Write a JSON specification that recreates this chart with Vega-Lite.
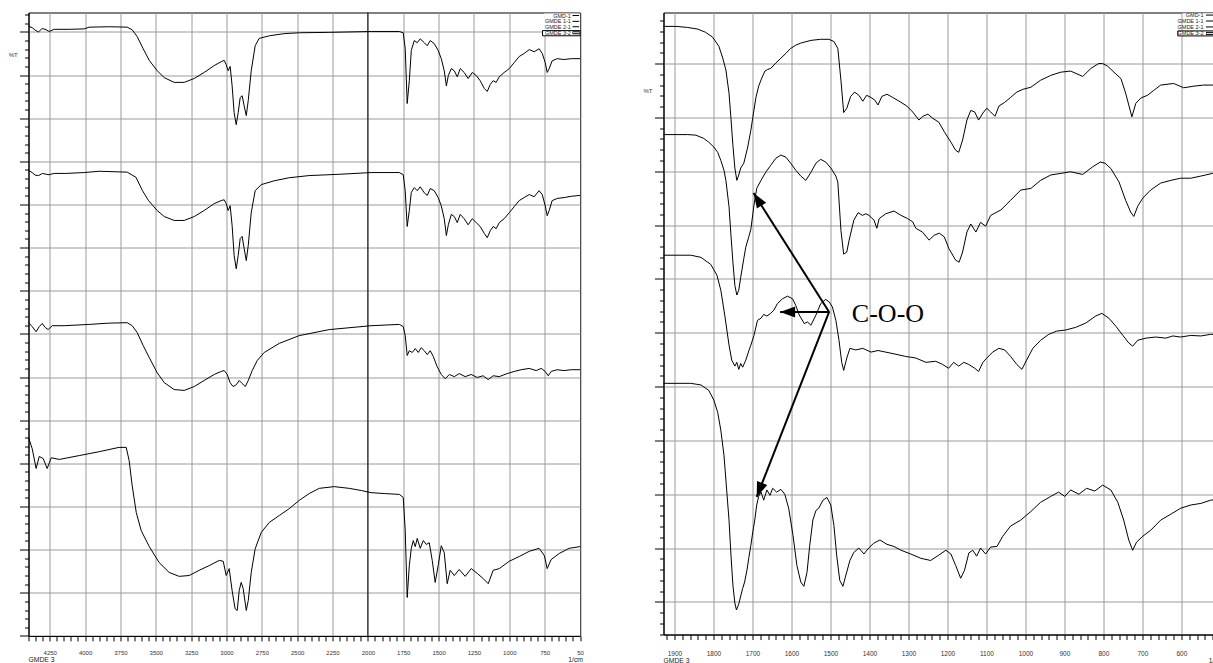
{
"$schema": "https://vega.github.io/schema/vega-lite/v6.json",
"background": "white",
"padding": {"left": 7.5, "top": 11.5, "right": 0, "bottom": 0},
"spacing": 58,
"datasets": {
"left": [
{"series":"GMD-1","wn":4400,"T":141.3},{"series":"GMD-1","wn":4374,"T":141.0},{"series":"GMD-1","wn":4353,"T":140.4},{"series":"GMD-1","wn":4329,"T":140.0},{"series":"GMD-1","wn":4303,"T":140.8},{"series":"GMD-1","wn":4275,"T":140.5},{"series":"GMD-1","wn":4254,"T":140.1},{"series":"GMD-1","wn":4218,"T":140.6},{"series":"GMD-1","wn":4112,"T":140.6},{"series":"GMD-1","wn":4006,"T":140.7},{"series":"GMD-1","wn":3971,"T":141.1},{"series":"GMD-1","wn":3829,"T":141.2},{"series":"GMD-1","wn":3702,"T":141.1},{"series":"GMD-1","wn":3667,"T":140.5},{"series":"GMD-1","wn":3631,"T":138.9},{"series":"GMD-1","wn":3589,"T":136.1},{"series":"GMD-1","wn":3546,"T":133.4},{"series":"GMD-1","wn":3490,"T":131.0},{"series":"GMD-1","wn":3440,"T":129.4},{"series":"GMD-1","wn":3370,"T":128.3},{"series":"GMD-1","wn":3299,"T":128.3},{"series":"GMD-1","wn":3228,"T":129.2},{"series":"GMD-1","wn":3158,"T":130.6},{"series":"GMD-1","wn":3087,"T":132.2},{"series":"GMD-1","wn":3037,"T":133.1},{"series":"GMD-1","wn":3016,"T":133.4},{"series":"GMD-1","wn":3002,"T":132.4},{"series":"GMD-1","wn":2988,"T":131.0},{"series":"GMD-1","wn":2974,"T":132.0},{"series":"GMD-1","wn":2960,"T":127.5},{"series":"GMD-1","wn":2946,"T":121.3},{"series":"GMD-1","wn":2931,"T":118.5},{"series":"GMD-1","wn":2917,"T":121.3},{"series":"GMD-1","wn":2903,"T":124.8},{"series":"GMD-1","wn":2889,"T":125.2},{"series":"GMD-1","wn":2875,"T":122.9},{"series":"GMD-1","wn":2860,"T":120.6},{"series":"GMD-1","wn":2846,"T":124.1},{"series":"GMD-1","wn":2825,"T":131.0},{"series":"GMD-1","wn":2797,"T":136.8},{"series":"GMD-1","wn":2769,"T":138.5},{"series":"GMD-1","wn":2697,"T":139.1},{"series":"GMD-1","wn":2591,"T":139.6},{"series":"GMD-1","wn":2485,"T":139.8},{"series":"GMD-1","wn":2273,"T":139.9},{"series":"GMD-1","wn":1977,"T":140.1},{"series":"GMD-1","wn":1778,"T":140.1},{"series":"GMD-1","wn":1750,"T":139.8},{"series":"GMD-1","wn":1736,"T":136.1},{"series":"GMD-1","wn":1722,"T":123.4},{"series":"GMD-1","wn":1707,"T":128.7},{"series":"GMD-1","wn":1693,"T":135.7},{"series":"GMD-1","wn":1672,"T":138.0},{"series":"GMD-1","wn":1651,"T":137.5},{"series":"GMD-1","wn":1630,"T":138.4},{"series":"GMD-1","wn":1601,"T":137.5},{"series":"GMD-1","wn":1580,"T":136.8},{"series":"GMD-1","wn":1559,"T":138.0},{"series":"GMD-1","wn":1531,"T":137.3},{"series":"GMD-1","wn":1503,"T":135.7},{"series":"GMD-1","wn":1481,"T":133.8},{"series":"GMD-1","wn":1460,"T":131.0},{"series":"GMD-1","wn":1445,"T":127.5},{"series":"GMD-1","wn":1431,"T":129.9},{"series":"GMD-1","wn":1410,"T":131.5},{"series":"GMD-1","wn":1389,"T":131.0},{"series":"GMD-1","wn":1368,"T":129.6},{"series":"GMD-1","wn":1347,"T":131.5},{"series":"GMD-1","wn":1319,"T":130.6},{"series":"GMD-1","wn":1291,"T":129.2},{"series":"GMD-1","wn":1262,"T":130.6},{"series":"GMD-1","wn":1234,"T":129.9},{"series":"GMD-1","wn":1206,"T":128.7},{"series":"GMD-1","wn":1177,"T":126.9},{"series":"GMD-1","wn":1156,"T":126.2},{"series":"GMD-1","wn":1135,"T":127.8},{"series":"GMD-1","wn":1114,"T":128.7},{"series":"GMD-1","wn":1093,"T":128.3},{"series":"GMD-1","wn":1071,"T":129.6},{"series":"GMD-1","wn":1036,"T":130.6},{"series":"GMD-1","wn":1000,"T":131.5},{"series":"GMD-1","wn":965,"T":132.9},{"series":"GMD-1","wn":930,"T":134.3},{"series":"GMD-1","wn":895,"T":135.0},{"series":"GMD-1","wn":859,"T":135.9},{"series":"GMD-1","wn":824,"T":135.4},{"series":"GMD-1","wn":789,"T":136.1},{"series":"GMD-1","wn":767,"T":135.0},{"series":"GMD-1","wn":746,"T":132.9},{"series":"GMD-1","wn":732,"T":130.6},{"series":"GMD-1","wn":718,"T":131.5},{"series":"GMD-1","wn":697,"T":133.3},{"series":"GMD-1","wn":661,"T":133.8},{"series":"GMD-1","wn":612,"T":133.6},{"series":"GMD-1","wn":562,"T":133.8},{"series":"GMD-1","wn":500,"T":133.8},
{"series":"GMDE 1-1","wn":4400,"T":107.9},{"series":"GMDE 1-1","wn":4374,"T":107.4},{"series":"GMDE 1-1","wn":4353,"T":106.8},{"series":"GMDE 1-1","wn":4329,"T":106.7},{"series":"GMDE 1-1","wn":4301,"T":107.2},{"series":"GMDE 1-1","wn":4275,"T":107.0},{"series":"GMDE 1-1","wn":4254,"T":106.9},{"series":"GMDE 1-1","wn":4218,"T":107.2},{"series":"GMDE 1-1","wn":4136,"T":107.2},{"series":"GMDE 1-1","wn":4006,"T":107.4},{"series":"GMDE 1-1","wn":3900,"T":107.7},{"series":"GMDE 1-1","wn":3702,"T":107.5},{"series":"GMDE 1-1","wn":3640,"T":106.3},{"series":"GMDE 1-1","wn":3594,"T":103.2},{"series":"GMDE 1-1","wn":3551,"T":100.9},{"series":"GMDE 1-1","wn":3490,"T":98.6},{"series":"GMDE 1-1","wn":3440,"T":97.2},{"series":"GMDE 1-1","wn":3370,"T":96.3},{"series":"GMDE 1-1","wn":3299,"T":96.3},{"series":"GMDE 1-1","wn":3228,"T":97.2},{"series":"GMDE 1-1","wn":3158,"T":98.6},{"series":"GMDE 1-1","wn":3087,"T":100.2},{"series":"GMDE 1-1","wn":3037,"T":100.9},{"series":"GMDE 1-1","wn":3016,"T":101.1},{"series":"GMDE 1-1","wn":3002,"T":100.2},{"series":"GMDE 1-1","wn":2988,"T":98.6},{"series":"GMDE 1-1","wn":2974,"T":99.7},{"series":"GMDE 1-1","wn":2960,"T":95.1},{"series":"GMDE 1-1","wn":2946,"T":88.2},{"series":"GMDE 1-1","wn":2931,"T":85.1},{"series":"GMDE 1-1","wn":2917,"T":88.2},{"series":"GMDE 1-1","wn":2903,"T":92.1},{"series":"GMDE 1-1","wn":2889,"T":92.6},{"series":"GMDE 1-1","wn":2875,"T":89.8},{"series":"GMDE 1-1","wn":2860,"T":87.0},{"series":"GMDE 1-1","wn":2846,"T":90.5},{"series":"GMDE 1-1","wn":2825,"T":98.1},{"series":"GMDE 1-1","wn":2797,"T":103.2},{"series":"GMDE 1-1","wn":2754,"T":104.6},{"series":"GMDE 1-1","wn":2662,"T":105.5},{"series":"GMDE 1-1","wn":2556,"T":106.2},{"series":"GMDE 1-1","wn":2415,"T":106.7},{"series":"GMDE 1-1","wn":2203,"T":107.0},{"series":"GMDE 1-1","wn":1977,"T":107.4},{"series":"GMDE 1-1","wn":1778,"T":107.4},{"series":"GMDE 1-1","wn":1750,"T":106.9},{"series":"GMDE 1-1","wn":1736,"T":103.2},{"series":"GMDE 1-1","wn":1722,"T":94.9},{"series":"GMDE 1-1","wn":1707,"T":98.6},{"series":"GMDE 1-1","wn":1693,"T":102.8},{"series":"GMDE 1-1","wn":1672,"T":103.9},{"series":"GMDE 1-1","wn":1651,"T":103.2},{"series":"GMDE 1-1","wn":1630,"T":104.1},{"series":"GMDE 1-1","wn":1601,"T":102.7},{"series":"GMDE 1-1","wn":1580,"T":102.1},{"series":"GMDE 1-1","wn":1559,"T":103.7},{"series":"GMDE 1-1","wn":1531,"T":103.2},{"series":"GMDE 1-1","wn":1503,"T":101.6},{"series":"GMDE 1-1","wn":1481,"T":99.7},{"series":"GMDE 1-1","wn":1460,"T":96.7},{"series":"GMDE 1-1","wn":1445,"T":92.8},{"series":"GMDE 1-1","wn":1431,"T":95.3},{"series":"GMDE 1-1","wn":1410,"T":97.7},{"series":"GMDE 1-1","wn":1389,"T":97.2},{"series":"GMDE 1-1","wn":1368,"T":95.8},{"series":"GMDE 1-1","wn":1347,"T":97.7},{"series":"GMDE 1-1","wn":1319,"T":96.7},{"series":"GMDE 1-1","wn":1291,"T":95.3},{"series":"GMDE 1-1","wn":1262,"T":96.7},{"series":"GMDE 1-1","wn":1234,"T":95.8},{"series":"GMDE 1-1","wn":1206,"T":94.9},{"series":"GMDE 1-1","wn":1177,"T":93.3},{"series":"GMDE 1-1","wn":1156,"T":92.3},{"series":"GMDE 1-1","wn":1135,"T":93.9},{"series":"GMDE 1-1","wn":1114,"T":94.9},{"series":"GMDE 1-1","wn":1093,"T":94.4},{"series":"GMDE 1-1","wn":1071,"T":95.8},{"series":"GMDE 1-1","wn":1036,"T":96.7},{"series":"GMDE 1-1","wn":1000,"T":98.1},{"series":"GMDE 1-1","wn":965,"T":99.5},{"series":"GMDE 1-1","wn":930,"T":100.9},{"series":"GMDE 1-1","wn":895,"T":101.6},{"series":"GMDE 1-1","wn":859,"T":102.3},{"series":"GMDE 1-1","wn":824,"T":101.8},{"series":"GMDE 1-1","wn":789,"T":103.2},{"series":"GMDE 1-1","wn":767,"T":102.3},{"series":"GMDE 1-1","wn":746,"T":99.7},{"series":"GMDE 1-1","wn":732,"T":97.4},{"series":"GMDE 1-1","wn":718,"T":98.6},{"series":"GMDE 1-1","wn":697,"T":100.9},{"series":"GMDE 1-1","wn":661,"T":101.4},{"series":"GMDE 1-1","wn":612,"T":101.6},{"series":"GMDE 1-1","wn":562,"T":101.9},{"series":"GMDE 1-1","wn":500,"T":102.1},
{"series":"GMDE 2-1","wn":4400,"T":72.6},{"series":"GMDE 2-1","wn":4374,"T":71.7},{"series":"GMDE 2-1","wn":4346,"T":70.5},{"series":"GMDE 2-1","wn":4324,"T":71.7},{"series":"GMDE 2-1","wn":4303,"T":72.4},{"series":"GMDE 2-1","wn":4282,"T":71.5},{"series":"GMDE 2-1","wn":4261,"T":71.0},{"series":"GMDE 2-1","wn":4232,"T":71.9},{"series":"GMDE 2-1","wn":4148,"T":71.9},{"series":"GMDE 2-1","wn":3971,"T":72.2},{"series":"GMDE 2-1","wn":3829,"T":72.5},{"series":"GMDE 2-1","wn":3702,"T":72.6},{"series":"GMDE 2-1","wn":3667,"T":71.9},{"series":"GMDE 2-1","wn":3631,"T":70.3},{"series":"GMDE 2-1","wn":3589,"T":67.3},{"series":"GMDE 2-1","wn":3546,"T":64.5},{"series":"GMDE 2-1","wn":3490,"T":61.0},{"series":"GMDE 2-1","wn":3440,"T":58.7},{"series":"GMDE 2-1","wn":3370,"T":57.1},{"series":"GMDE 2-1","wn":3299,"T":56.9},{"series":"GMDE 2-1","wn":3228,"T":57.8},{"series":"GMDE 2-1","wn":3158,"T":59.2},{"series":"GMDE 2-1","wn":3087,"T":60.6},{"series":"GMDE 2-1","wn":3037,"T":61.3},{"series":"GMDE 2-1","wn":3016,"T":61.5},{"series":"GMDE 2-1","wn":2995,"T":60.6},{"series":"GMDE 2-1","wn":2974,"T":58.7},{"series":"GMDE 2-1","wn":2953,"T":57.8},{"series":"GMDE 2-1","wn":2931,"T":58.2},{"series":"GMDE 2-1","wn":2910,"T":59.2},{"series":"GMDE 2-1","wn":2889,"T":58.5},{"series":"GMDE 2-1","wn":2867,"T":57.8},{"series":"GMDE 2-1","wn":2846,"T":59.2},{"series":"GMDE 2-1","wn":2818,"T":61.5},{"series":"GMDE 2-1","wn":2783,"T":63.8},{"series":"GMDE 2-1","wn":2733,"T":65.7},{"series":"GMDE 2-1","wn":2627,"T":67.8},{"series":"GMDE 2-1","wn":2486,"T":69.6},{"series":"GMDE 2-1","wn":2273,"T":71.0},{"series":"GMDE 2-1","wn":1977,"T":71.9},{"series":"GMDE 2-1","wn":1778,"T":72.2},{"series":"GMDE 2-1","wn":1750,"T":71.7},{"series":"GMDE 2-1","wn":1736,"T":69.6},{"series":"GMDE 2-1","wn":1722,"T":65.0},{"series":"GMDE 2-1","wn":1707,"T":66.1},{"series":"GMDE 2-1","wn":1686,"T":65.7},{"series":"GMDE 2-1","wn":1665,"T":66.6},{"series":"GMDE 2-1","wn":1644,"T":65.7},{"series":"GMDE 2-1","wn":1623,"T":66.8},{"series":"GMDE 2-1","wn":1601,"T":66.1},{"series":"GMDE 2-1","wn":1580,"T":65.2},{"series":"GMDE 2-1","wn":1559,"T":66.1},{"series":"GMDE 2-1","wn":1538,"T":64.8},{"series":"GMDE 2-1","wn":1510,"T":62.4},{"series":"GMDE 2-1","wn":1481,"T":60.6},{"series":"GMDE 2-1","wn":1453,"T":59.6},{"series":"GMDE 2-1","wn":1424,"T":60.6},{"series":"GMDE 2-1","wn":1389,"T":60.1},{"series":"GMDE 2-1","wn":1354,"T":60.8},{"series":"GMDE 2-1","wn":1312,"T":60.1},{"series":"GMDE 2-1","wn":1269,"T":60.6},{"series":"GMDE 2-1","wn":1227,"T":59.9},{"series":"GMDE 2-1","wn":1185,"T":60.3},{"series":"GMDE 2-1","wn":1149,"T":59.4},{"series":"GMDE 2-1","wn":1114,"T":60.3},{"series":"GMDE 2-1","wn":1071,"T":60.1},{"series":"GMDE 2-1","wn":1015,"T":60.8},{"series":"GMDE 2-1","wn":965,"T":61.3},{"series":"GMDE 2-1","wn":916,"T":61.7},{"series":"GMDE 2-1","wn":859,"T":62.0},{"series":"GMDE 2-1","wn":810,"T":61.5},{"series":"GMDE 2-1","wn":774,"T":62.0},{"series":"GMDE 2-1","wn":746,"T":61.3},{"series":"GMDE 2-1","wn":725,"T":60.3},{"series":"GMDE 2-1","wn":704,"T":61.3},{"series":"GMDE 2-1","wn":661,"T":61.7},{"series":"GMDE 2-1","wn":612,"T":61.5},{"series":"GMDE 2-1","wn":562,"T":61.7},{"series":"GMDE 2-1","wn":500,"T":61.7},
{"series":"GMDE 3-2","wn":4400,"T":46.0},{"series":"GMDE 3-2","wn":4374,"T":43.4},{"series":"GMDE 3-2","wn":4346,"T":38.8},{"series":"GMDE 3-2","wn":4324,"T":41.6},{"series":"GMDE 3-2","wn":4296,"T":41.1},{"series":"GMDE 3-2","wn":4268,"T":38.8},{"series":"GMDE 3-2","wn":4239,"T":41.3},{"series":"GMDE 3-2","wn":4183,"T":40.9},{"series":"GMDE 3-2","wn":4041,"T":41.8},{"series":"GMDE 3-2","wn":3900,"T":42.7},{"series":"GMDE 3-2","wn":3759,"T":43.7},{"series":"GMDE 3-2","wn":3709,"T":43.7},{"series":"GMDE 3-2","wn":3688,"T":40.6},{"series":"GMDE 3-2","wn":3667,"T":34.9},{"series":"GMDE 3-2","wn":3638,"T":28.6},{"series":"GMDE 3-2","wn":3603,"T":24.4},{"series":"GMDE 3-2","wn":3546,"T":20.7},{"series":"GMDE 3-2","wn":3476,"T":17.0},{"series":"GMDE 3-2","wn":3405,"T":14.7},{"series":"GMDE 3-2","wn":3334,"T":13.8},{"series":"GMDE 3-2","wn":3264,"T":14.0},{"series":"GMDE 3-2","wn":3193,"T":15.2},{"series":"GMDE 3-2","wn":3122,"T":16.3},{"series":"GMDE 3-2","wn":3051,"T":17.5},{"series":"GMDE 3-2","wn":3023,"T":17.3},{"series":"GMDE 3-2","wn":3002,"T":14.0},{"series":"GMDE 3-2","wn":2981,"T":15.6},{"series":"GMDE 3-2","wn":2960,"T":10.5},{"series":"GMDE 3-2","wn":2939,"T":6.3},{"series":"GMDE 3-2","wn":2924,"T":5.9},{"series":"GMDE 3-2","wn":2910,"T":10.5},{"series":"GMDE 3-2","wn":2896,"T":12.4},{"series":"GMDE 3-2","wn":2882,"T":11.0},{"series":"GMDE 3-2","wn":2860,"T":5.9},{"series":"GMDE 3-2","wn":2846,"T":8.2},{"series":"GMDE 3-2","wn":2825,"T":14.7},{"series":"GMDE 3-2","wn":2797,"T":20.2},{"series":"GMDE 3-2","wn":2754,"T":24.0},{"series":"GMDE 3-2","wn":2697,"T":26.3},{"series":"GMDE 3-2","wn":2627,"T":27.9},{"series":"GMDE 3-2","wn":2556,"T":29.5},{"series":"GMDE 3-2","wn":2486,"T":31.4},{"series":"GMDE 3-2","wn":2415,"T":33.0},{"series":"GMDE 3-2","wn":2344,"T":34.2},{"series":"GMDE 3-2","wn":2238,"T":34.6},{"series":"GMDE 3-2","wn":2132,"T":34.2},{"series":"GMDE 3-2","wn":2047,"T":33.7},{"series":"GMDE 3-2","wn":1977,"T":33.2},{"series":"GMDE 3-2","wn":1885,"T":33.0},{"series":"GMDE 3-2","wn":1778,"T":32.8},{"series":"GMDE 3-2","wn":1750,"T":32.1},{"series":"GMDE 3-2","wn":1736,"T":24.5},{"series":"GMDE 3-2","wn":1722,"T":8.9},{"series":"GMDE 3-2","wn":1707,"T":16.3},{"series":"GMDE 3-2","wn":1693,"T":20.3},{"series":"GMDE 3-2","wn":1679,"T":22.1},{"series":"GMDE 3-2","wn":1665,"T":20.7},{"series":"GMDE 3-2","wn":1651,"T":22.6},{"series":"GMDE 3-2","wn":1630,"T":20.3},{"series":"GMDE 3-2","wn":1608,"T":22.1},{"series":"GMDE 3-2","wn":1587,"T":21.2},{"series":"GMDE 3-2","wn":1566,"T":21.6},{"series":"GMDE 3-2","wn":1545,"T":17.5},{"series":"GMDE 3-2","wn":1524,"T":12.4},{"series":"GMDE 3-2","wn":1503,"T":16.3},{"series":"GMDE 3-2","wn":1481,"T":20.9},{"series":"GMDE 3-2","wn":1460,"T":19.3},{"series":"GMDE 3-2","wn":1439,"T":12.1},{"series":"GMDE 3-2","wn":1418,"T":15.2},{"series":"GMDE 3-2","wn":1389,"T":14.0},{"series":"GMDE 3-2","wn":1354,"T":15.4},{"series":"GMDE 3-2","wn":1312,"T":13.8},{"series":"GMDE 3-2","wn":1269,"T":15.6},{"series":"GMDE 3-2","wn":1227,"T":14.5},{"series":"GMDE 3-2","wn":1185,"T":13.3},{"series":"GMDE 3-2","wn":1149,"T":12.1},{"series":"GMDE 3-2","wn":1114,"T":15.2},{"series":"GMDE 3-2","wn":1071,"T":15.6},{"series":"GMDE 3-2","wn":1000,"T":17.3},{"series":"GMDE 3-2","wn":930,"T":18.4},{"series":"GMDE 3-2","wn":859,"T":19.6},{"series":"GMDE 3-2","wn":789,"T":20.3},{"series":"GMDE 3-2","wn":752,"T":18.6},{"series":"GMDE 3-2","wn":732,"T":15.6},{"series":"GMDE 3-2","wn":704,"T":17.7},{"series":"GMDE 3-2","wn":647,"T":19.1},{"series":"GMDE 3-2","wn":577,"T":20.3},{"series":"GMDE 3-2","wn":500,"T":20.7}
],
"right": [
{"series":"GMD-1","wn":1928,"T":106.9},{"series":"GMD-1","wn":1896,"T":106.9},{"series":"GMD-1","wn":1866,"T":106.7},{"series":"GMD-1","wn":1840,"T":106.4},{"series":"GMD-1","wn":1820,"T":105.8},{"series":"GMD-1","wn":1802,"T":104.9},{"series":"GMD-1","wn":1786,"T":103.2},{"series":"GMD-1","wn":1776,"T":101.0},{"series":"GMD-1","wn":1768,"T":98.8},{"series":"GMD-1","wn":1760,"T":94.5},{"series":"GMD-1","wn":1755,"T":89.8},{"series":"GMD-1","wn":1750,"T":84.8},{"series":"GMD-1","wn":1745,"T":80.6},{"series":"GMD-1","wn":1740,"T":78.3},{"series":"GMD-1","wn":1735,"T":79.3},{"series":"GMD-1","wn":1730,"T":80.6},{"series":"GMD-1","wn":1722,"T":81.5},{"series":"GMD-1","wn":1712,"T":84.5},{"series":"GMD-1","wn":1704,"T":87.6},{"series":"GMD-1","wn":1699,"T":90.0},{"series":"GMD-1","wn":1691,"T":93.7},{"series":"GMD-1","wn":1684,"T":95.8},{"series":"GMD-1","wn":1676,"T":97.3},{"series":"GMD-1","wn":1668,"T":98.6},{"series":"GMD-1","wn":1661,"T":98.9},{"series":"GMD-1","wn":1653,"T":99.1},{"series":"GMD-1","wn":1640,"T":100.1},{"series":"GMD-1","wn":1627,"T":101.0},{"series":"GMD-1","wn":1614,"T":101.9},{"series":"GMD-1","wn":1602,"T":102.8},{"series":"GMD-1","wn":1589,"T":103.4},{"series":"GMD-1","wn":1576,"T":103.8},{"series":"GMD-1","wn":1550,"T":104.3},{"series":"GMD-1","wn":1525,"T":104.5},{"series":"GMD-1","wn":1504,"T":104.5},{"series":"GMD-1","wn":1491,"T":104.1},{"series":"GMD-1","wn":1481,"T":102.8},{"series":"GMD-1","wn":1473,"T":96.9},{"series":"GMD-1","wn":1466,"T":90.9},{"series":"GMD-1","wn":1458,"T":91.7},{"series":"GMD-1","wn":1448,"T":93.9},{"series":"GMD-1","wn":1438,"T":94.7},{"series":"GMD-1","wn":1427,"T":94.1},{"series":"GMD-1","wn":1417,"T":93.0},{"series":"GMD-1","wn":1407,"T":94.1},{"series":"GMD-1","wn":1396,"T":93.7},{"series":"GMD-1","wn":1386,"T":93.2},{"series":"GMD-1","wn":1378,"T":92.3},{"series":"GMD-1","wn":1368,"T":93.9},{"series":"GMD-1","wn":1355,"T":94.3},{"series":"GMD-1","wn":1340,"T":93.7},{"series":"GMD-1","wn":1319,"T":92.8},{"series":"GMD-1","wn":1304,"T":92.1},{"series":"GMD-1","wn":1289,"T":91.0},{"series":"GMD-1","wn":1273,"T":89.5},{"series":"GMD-1","wn":1263,"T":90.2},{"series":"GMD-1","wn":1250,"T":90.6},{"series":"GMD-1","wn":1237,"T":89.8},{"series":"GMD-1","wn":1222,"T":89.1},{"series":"GMD-1","wn":1207,"T":87.2},{"series":"GMD-1","wn":1191,"T":85.4},{"series":"GMD-1","wn":1179,"T":83.9},{"series":"GMD-1","wn":1171,"T":83.5},{"series":"GMD-1","wn":1161,"T":85.8},{"series":"GMD-1","wn":1150,"T":89.5},{"series":"GMD-1","wn":1140,"T":91.3},{"series":"GMD-1","wn":1130,"T":91.0},{"series":"GMD-1","wn":1120,"T":89.5},{"series":"GMD-1","wn":1109,"T":90.8},{"series":"GMD-1","wn":1099,"T":91.7},{"series":"GMD-1","wn":1089,"T":91.0},{"series":"GMD-1","wn":1078,"T":90.2},{"series":"GMD-1","wn":1068,"T":92.1},{"series":"GMD-1","wn":1053,"T":92.8},{"series":"GMD-1","wn":1038,"T":93.7},{"series":"GMD-1","wn":1022,"T":94.7},{"series":"GMD-1","wn":1007,"T":95.2},{"series":"GMD-1","wn":986,"T":95.6},{"series":"GMD-1","wn":961,"T":96.9},{"series":"GMD-1","wn":935,"T":97.8},{"series":"GMD-1","wn":909,"T":98.4},{"series":"GMD-1","wn":884,"T":98.6},{"series":"GMD-1","wn":853,"T":97.6},{"series":"GMD-1","wn":832,"T":99.1},{"series":"GMD-1","wn":812,"T":100.0},{"series":"GMD-1","wn":802,"T":100.0},{"series":"GMD-1","wn":789,"T":99.5},{"series":"GMD-1","wn":773,"T":98.4},{"series":"GMD-1","wn":755,"T":97.2},{"series":"GMD-1","wn":743,"T":94.5},{"series":"GMD-1","wn":735,"T":92.3},{"series":"GMD-1","wn":727,"T":90.1},{"series":"GMD-1","wn":717,"T":92.6},{"series":"GMD-1","wn":704,"T":93.6},{"series":"GMD-1","wn":687,"T":94.1},{"series":"GMD-1","wn":671,"T":95.0},{"series":"GMD-1","wn":653,"T":96.0},{"series":"GMD-1","wn":620,"T":96.3},{"series":"GMD-1","wn":594,"T":95.5},{"series":"GMD-1","wn":568,"T":95.8},{"series":"GMD-1","wn":543,"T":96.0},{"series":"GMD-1","wn":519,"T":96.0},{"series":"GMD-1","wn":500,"T":96.2},
{"series":"GMDE 1-1","wn":1928,"T":86.8},{"series":"GMDE 1-1","wn":1866,"T":86.8},{"series":"GMDE 1-1","wn":1845,"T":86.7},{"series":"GMDE 1-1","wn":1825,"T":86.1},{"series":"GMDE 1-1","wn":1812,"T":85.4},{"series":"GMDE 1-1","wn":1799,"T":84.5},{"series":"GMDE 1-1","wn":1789,"T":83.5},{"series":"GMDE 1-1","wn":1781,"T":82.0},{"series":"GMDE 1-1","wn":1773,"T":80.2},{"series":"GMDE 1-1","wn":1768,"T":78.3},{"series":"GMDE 1-1","wn":1760,"T":73.4},{"series":"GMDE 1-1","wn":1755,"T":68.1},{"series":"GMDE 1-1","wn":1750,"T":63.1},{"series":"GMDE 1-1","wn":1745,"T":58.8},{"series":"GMDE 1-1","wn":1740,"T":57.0},{"series":"GMDE 1-1","wn":1735,"T":57.9},{"series":"GMDE 1-1","wn":1730,"T":60.3},{"series":"GMDE 1-1","wn":1722,"T":63.8},{"series":"GMDE 1-1","wn":1717,"T":65.9},{"series":"GMDE 1-1","wn":1709,"T":67.9},{"series":"GMDE 1-1","wn":1704,"T":69.2},{"series":"GMDE 1-1","wn":1696,"T":73.7},{"series":"GMDE 1-1","wn":1689,"T":76.8},{"series":"GMDE 1-1","wn":1678,"T":78.3},{"series":"GMDE 1-1","wn":1666,"T":79.8},{"series":"GMDE 1-1","wn":1653,"T":81.1},{"series":"GMDE 1-1","wn":1640,"T":82.4},{"series":"GMDE 1-1","wn":1627,"T":83.0},{"series":"GMDE 1-1","wn":1614,"T":82.6},{"series":"GMDE 1-1","wn":1602,"T":81.5},{"series":"GMDE 1-1","wn":1589,"T":80.2},{"series":"GMDE 1-1","wn":1576,"T":79.1},{"series":"GMDE 1-1","wn":1563,"T":78.3},{"series":"GMDE 1-1","wn":1550,"T":79.8},{"series":"GMDE 1-1","wn":1537,"T":81.5},{"series":"GMDE 1-1","wn":1525,"T":82.2},{"series":"GMDE 1-1","wn":1512,"T":81.7},{"series":"GMDE 1-1","wn":1499,"T":80.6},{"series":"GMDE 1-1","wn":1486,"T":79.1},{"series":"GMDE 1-1","wn":1481,"T":78.0},{"series":"GMDE 1-1","wn":1473,"T":69.0},{"series":"GMDE 1-1","wn":1466,"T":64.6},{"series":"GMDE 1-1","wn":1458,"T":65.0},{"series":"GMDE 1-1","wn":1452,"T":67.2},{"series":"GMDE 1-1","wn":1440,"T":70.9},{"series":"GMDE 1-1","wn":1429,"T":72.3},{"series":"GMDE 1-1","wn":1418,"T":71.8},{"series":"GMDE 1-1","wn":1409,"T":72.1},{"series":"GMDE 1-1","wn":1401,"T":71.8},{"series":"GMDE 1-1","wn":1388,"T":70.9},{"series":"GMDE 1-1","wn":1381,"T":69.4},{"series":"GMDE 1-1","wn":1375,"T":71.2},{"series":"GMDE 1-1","wn":1358,"T":72.1},{"series":"GMDE 1-1","wn":1337,"T":72.6},{"series":"GMDE 1-1","wn":1319,"T":71.8},{"series":"GMDE 1-1","wn":1302,"T":71.2},{"series":"GMDE 1-1","wn":1289,"T":70.6},{"series":"GMDE 1-1","wn":1281,"T":69.4},{"series":"GMDE 1-1","wn":1264,"T":68.7},{"series":"GMDE 1-1","wn":1247,"T":67.2},{"series":"GMDE 1-1","wn":1234,"T":68.1},{"series":"GMDE 1-1","wn":1221,"T":68.5},{"series":"GMDE 1-1","wn":1208,"T":67.8},{"series":"GMDE 1-1","wn":1196,"T":65.6},{"series":"GMDE 1-1","wn":1179,"T":63.5},{"series":"GMDE 1-1","wn":1170,"T":63.1},{"series":"GMDE 1-1","wn":1161,"T":65.0},{"series":"GMDE 1-1","wn":1150,"T":68.7},{"series":"GMDE 1-1","wn":1140,"T":70.2},{"series":"GMDE 1-1","wn":1127,"T":68.7},{"series":"GMDE 1-1","wn":1115,"T":70.5},{"series":"GMDE 1-1","wn":1102,"T":69.8},{"series":"GMDE 1-1","wn":1089,"T":71.8},{"series":"GMDE 1-1","wn":1063,"T":72.8},{"series":"GMDE 1-1","wn":1038,"T":74.6},{"series":"GMDE 1-1","wn":1012,"T":76.5},{"series":"GMDE 1-1","wn":986,"T":76.8},{"series":"GMDE 1-1","wn":961,"T":78.3},{"series":"GMDE 1-1","wn":935,"T":79.3},{"series":"GMDE 1-1","wn":909,"T":79.6},{"series":"GMDE 1-1","wn":884,"T":79.9},{"series":"GMDE 1-1","wn":853,"T":79.4},{"series":"GMDE 1-1","wn":828,"T":80.8},{"series":"GMDE 1-1","wn":808,"T":81.7},{"series":"GMDE 1-1","wn":796,"T":81.5},{"series":"GMDE 1-1","wn":781,"T":80.5},{"series":"GMDE 1-1","wn":760,"T":78.0},{"series":"GMDE 1-1","wn":743,"T":74.6},{"series":"GMDE 1-1","wn":730,"T":72.4},{"series":"GMDE 1-1","wn":722,"T":71.6},{"series":"GMDE 1-1","wn":712,"T":73.5},{"series":"GMDE 1-1","wn":699,"T":75.0},{"series":"GMDE 1-1","wn":679,"T":76.5},{"series":"GMDE 1-1","wn":653,"T":77.8},{"series":"GMDE 1-1","wn":627,"T":78.3},{"series":"GMDE 1-1","wn":602,"T":78.7},{"series":"GMDE 1-1","wn":576,"T":78.7},{"series":"GMDE 1-1","wn":550,"T":79.1},{"series":"GMDE 1-1","wn":520,"T":79.6},{"series":"GMDE 1-1","wn":500,"T":79.8},
{"series":"GMDE 2-1","wn":1928,"T":64.4},{"series":"GMDE 2-1","wn":1858,"T":64.4},{"series":"GMDE 2-1","wn":1832,"T":64.0},{"series":"GMDE 2-1","wn":1807,"T":62.7},{"series":"GMDE 2-1","wn":1791,"T":60.7},{"series":"GMDE 2-1","wn":1781,"T":57.9},{"series":"GMDE 2-1","wn":1771,"T":53.3},{"series":"GMDE 2-1","wn":1760,"T":47.7},{"series":"GMDE 2-1","wn":1753,"T":44.9},{"series":"GMDE 2-1","wn":1745,"T":43.8},{"series":"GMDE 2-1","wn":1740,"T":44.5},{"series":"GMDE 2-1","wn":1735,"T":43.2},{"series":"GMDE 2-1","wn":1730,"T":44.3},{"series":"GMDE 2-1","wn":1725,"T":43.6},{"series":"GMDE 2-1","wn":1717,"T":44.9},{"series":"GMDE 2-1","wn":1709,"T":46.7},{"series":"GMDE 2-1","wn":1704,"T":47.7},{"series":"GMDE 2-1","wn":1696,"T":49.5},{"series":"GMDE 2-1","wn":1687,"T":52.3},{"series":"GMDE 2-1","wn":1678,"T":52.7},{"series":"GMDE 2-1","wn":1671,"T":53.4},{"series":"GMDE 2-1","wn":1663,"T":53.1},{"series":"GMDE 2-1","wn":1653,"T":53.6},{"series":"GMDE 2-1","wn":1645,"T":54.2},{"series":"GMDE 2-1","wn":1636,"T":55.4},{"series":"GMDE 2-1","wn":1623,"T":56.3},{"series":"GMDE 2-1","wn":1610,"T":56.8},{"series":"GMDE 2-1","wn":1597,"T":56.3},{"series":"GMDE 2-1","wn":1589,"T":55.1},{"series":"GMDE 2-1","wn":1580,"T":53.3},{"series":"GMDE 2-1","wn":1567,"T":51.7},{"series":"GMDE 2-1","wn":1559,"T":52.0},{"series":"GMDE 2-1","wn":1550,"T":51.4},{"series":"GMDE 2-1","wn":1537,"T":53.3},{"series":"GMDE 2-1","wn":1525,"T":55.4},{"series":"GMDE 2-1","wn":1512,"T":56.2},{"series":"GMDE 2-1","wn":1503,"T":55.7},{"series":"GMDE 2-1","wn":1495,"T":54.8},{"series":"GMDE 2-1","wn":1486,"T":52.3},{"series":"GMDE 2-1","wn":1478,"T":48.6},{"series":"GMDE 2-1","wn":1471,"T":44.5},{"series":"GMDE 2-1","wn":1466,"T":43.0},{"series":"GMDE 2-1","wn":1458,"T":45.3},{"series":"GMDE 2-1","wn":1450,"T":47.1},{"series":"GMDE 2-1","wn":1435,"T":46.8},{"series":"GMDE 2-1","wn":1417,"T":47.1},{"series":"GMDE 2-1","wn":1396,"T":46.4},{"series":"GMDE 2-1","wn":1378,"T":46.7},{"series":"GMDE 2-1","wn":1358,"T":46.4},{"series":"GMDE 2-1","wn":1332,"T":46.0},{"series":"GMDE 2-1","wn":1307,"T":45.6},{"series":"GMDE 2-1","wn":1281,"T":45.3},{"series":"GMDE 2-1","wn":1255,"T":44.5},{"series":"GMDE 2-1","wn":1230,"T":44.7},{"series":"GMDE 2-1","wn":1212,"T":44.1},{"series":"GMDE 2-1","wn":1197,"T":43.4},{"series":"GMDE 2-1","wn":1184,"T":44.5},{"series":"GMDE 2-1","wn":1171,"T":43.8},{"series":"GMDE 2-1","wn":1158,"T":44.5},{"series":"GMDE 2-1","wn":1145,"T":44.1},{"series":"GMDE 2-1","wn":1130,"T":43.4},{"series":"GMDE 2-1","wn":1120,"T":42.8},{"series":"GMDE 2-1","wn":1109,"T":44.5},{"series":"GMDE 2-1","wn":1099,"T":45.3},{"series":"GMDE 2-1","wn":1084,"T":46.4},{"series":"GMDE 2-1","wn":1068,"T":47.1},{"series":"GMDE 2-1","wn":1053,"T":46.8},{"series":"GMDE 2-1","wn":1038,"T":45.6},{"series":"GMDE 2-1","wn":1022,"T":44.1},{"series":"GMDE 2-1","wn":1009,"T":43.2},{"series":"GMDE 2-1","wn":997,"T":44.9},{"series":"GMDE 2-1","wn":981,"T":47.1},{"series":"GMDE 2-1","wn":961,"T":48.6},{"series":"GMDE 2-1","wn":940,"T":49.7},{"series":"GMDE 2-1","wn":920,"T":50.3},{"series":"GMDE 2-1","wn":897,"T":50.5},{"series":"GMDE 2-1","wn":871,"T":51.0},{"series":"GMDE 2-1","wn":845,"T":51.8},{"series":"GMDE 2-1","wn":820,"T":53.1},{"series":"GMDE 2-1","wn":804,"T":53.6},{"series":"GMDE 2-1","wn":786,"T":52.7},{"series":"GMDE 2-1","wn":768,"T":51.2},{"series":"GMDE 2-1","wn":750,"T":49.5},{"series":"GMDE 2-1","wn":735,"T":48.1},{"series":"GMDE 2-1","wn":725,"T":47.5},{"series":"GMDE 2-1","wn":712,"T":48.6},{"series":"GMDE 2-1","wn":691,"T":49.0},{"series":"GMDE 2-1","wn":666,"T":49.2},{"series":"GMDE 2-1","wn":640,"T":49.0},{"series":"GMDE 2-1","wn":622,"T":49.4},{"series":"GMDE 2-1","wn":602,"T":49.2},{"series":"GMDE 2-1","wn":576,"T":49.5},{"series":"GMDE 2-1","wn":550,"T":49.4},{"series":"GMDE 2-1","wn":525,"T":49.7},{"series":"GMDE 2-1","wn":500,"T":49.7},
{"series":"GMDE 3-2","wn":1928,"T":40.6},{"series":"GMDE 3-2","wn":1858,"T":40.6},{"series":"GMDE 3-2","wn":1832,"T":40.3},{"series":"GMDE 3-2","wn":1812,"T":39.3},{"series":"GMDE 3-2","wn":1799,"T":37.5},{"series":"GMDE 3-2","wn":1789,"T":35.2},{"series":"GMDE 3-2","wn":1781,"T":31.9},{"series":"GMDE 3-2","wn":1773,"T":27.3},{"series":"GMDE 3-2","wn":1766,"T":20.8},{"series":"GMDE 3-2","wn":1760,"T":15.2},{"series":"GMDE 3-2","wn":1755,"T":8.7},{"series":"GMDE 3-2","wn":1750,"T":3.1},{"series":"GMDE 3-2","wn":1745,"T":-0.2},{"series":"GMDE 3-2","wn":1741,"T":-1.5},{"series":"GMDE 3-2","wn":1735,"T":-0.4},{"series":"GMDE 3-2","wn":1730,"T":1.1},{"series":"GMDE 3-2","wn":1725,"T":2.5},{"series":"GMDE 3-2","wn":1720,"T":3.7},{"series":"GMDE 3-2","wn":1714,"T":5.9},{"series":"GMDE 3-2","wn":1709,"T":8.3},{"series":"GMDE 3-2","wn":1704,"T":10.5},{"series":"GMDE 3-2","wn":1699,"T":13.0},{"series":"GMDE 3-2","wn":1694,"T":15.2},{"series":"GMDE 3-2","wn":1689,"T":18.0},{"series":"GMDE 3-2","wn":1684,"T":19.6},{"series":"GMDE 3-2","wn":1678,"T":20.4},{"series":"GMDE 3-2","wn":1671,"T":18.9},{"series":"GMDE 3-2","wn":1663,"T":20.8},{"series":"GMDE 3-2","wn":1655,"T":19.8},{"series":"GMDE 3-2","wn":1648,"T":21.1},{"series":"GMDE 3-2","wn":1638,"T":20.4},{"series":"GMDE 3-2","wn":1627,"T":20.9},{"series":"GMDE 3-2","wn":1617,"T":20.0},{"series":"GMDE 3-2","wn":1607,"T":17.4},{"series":"GMDE 3-2","wn":1596,"T":12.4},{"series":"GMDE 3-2","wn":1586,"T":6.8},{"series":"GMDE 3-2","wn":1576,"T":3.7},{"series":"GMDE 3-2","wn":1568,"T":2.9},{"series":"GMDE 3-2","wn":1560,"T":5.5},{"series":"GMDE 3-2","wn":1553,"T":10.5},{"series":"GMDE 3-2","wn":1545,"T":15.2},{"series":"GMDE 3-2","wn":1537,"T":17.0},{"series":"GMDE 3-2","wn":1530,"T":17.4},{"series":"GMDE 3-2","wn":1519,"T":18.9},{"series":"GMDE 3-2","wn":1509,"T":19.4},{"series":"GMDE 3-2","wn":1499,"T":18.0},{"series":"GMDE 3-2","wn":1491,"T":14.2},{"series":"GMDE 3-2","wn":1484,"T":8.7},{"series":"GMDE 3-2","wn":1476,"T":4.0},{"series":"GMDE 3-2","wn":1468,"T":2.9},{"series":"GMDE 3-2","wn":1461,"T":4.8},{"series":"GMDE 3-2","wn":1450,"T":7.7},{"series":"GMDE 3-2","wn":1440,"T":9.2},{"series":"GMDE 3-2","wn":1427,"T":10.0},{"series":"GMDE 3-2","wn":1414,"T":8.9},{"series":"GMDE 3-2","wn":1402,"T":10.0},{"series":"GMDE 3-2","wn":1389,"T":10.9},{"series":"GMDE 3-2","wn":1373,"T":11.5},{"series":"GMDE 3-2","wn":1355,"T":10.7},{"series":"GMDE 3-2","wn":1337,"T":10.3},{"series":"GMDE 3-2","wn":1319,"T":9.6},{"series":"GMDE 3-2","wn":1294,"T":8.9},{"series":"GMDE 3-2","wn":1268,"T":8.1},{"series":"GMDE 3-2","wn":1243,"T":7.7},{"series":"GMDE 3-2","wn":1222,"T":8.7},{"series":"GMDE 3-2","wn":1204,"T":9.6},{"series":"GMDE 3-2","wn":1191,"T":8.9},{"series":"GMDE 3-2","wn":1179,"T":6.8},{"series":"GMDE 3-2","wn":1166,"T":4.4},{"series":"GMDE 3-2","wn":1156,"T":5.9},{"series":"GMDE 3-2","wn":1145,"T":9.1},{"series":"GMDE 3-2","wn":1135,"T":9.6},{"series":"GMDE 3-2","wn":1125,"T":8.5},{"series":"GMDE 3-2","wn":1115,"T":10.0},{"series":"GMDE 3-2","wn":1102,"T":8.9},{"series":"GMDE 3-2","wn":1089,"T":10.2},{"series":"GMDE 3-2","wn":1073,"T":10.3},{"series":"GMDE 3-2","wn":1058,"T":12.2},{"series":"GMDE 3-2","wn":1038,"T":14.1},{"series":"GMDE 3-2","wn":1012,"T":15.2},{"series":"GMDE 3-2","wn":986,"T":16.8},{"series":"GMDE 3-2","wn":961,"T":18.5},{"series":"GMDE 3-2","wn":935,"T":19.6},{"series":"GMDE 3-2","wn":915,"T":20.4},{"series":"GMDE 3-2","wn":899,"T":19.6},{"series":"GMDE 3-2","wn":884,"T":20.8},{"series":"GMDE 3-2","wn":863,"T":20.0},{"series":"GMDE 3-2","wn":843,"T":21.1},{"series":"GMDE 3-2","wn":822,"T":20.6},{"series":"GMDE 3-2","wn":802,"T":21.7},{"series":"GMDE 3-2","wn":781,"T":20.8},{"series":"GMDE 3-2","wn":763,"T":18.5},{"series":"GMDE 3-2","wn":748,"T":15.2},{"series":"GMDE 3-2","wn":735,"T":11.5},{"series":"GMDE 3-2","wn":725,"T":9.6},{"series":"GMDE 3-2","wn":715,"T":11.1},{"series":"GMDE 3-2","wn":699,"T":12.2},{"series":"GMDE 3-2","wn":679,"T":13.3},{"series":"GMDE 3-2","wn":653,"T":15.2},{"series":"GMDE 3-2","wn":627,"T":16.3},{"series":"GMDE 3-2","wn":602,"T":17.4},{"series":"GMDE 3-2","wn":576,"T":18.0},{"series":"GMDE 3-2","wn":550,"T":18.3},{"series":"GMDE 3-2","wn":525,"T":18.9},{"series":"GMDE 3-2","wn":500,"T":19.1}
],
"legendLeft": [
{"label":"GMD-1","T":143.8},{"label":"GMDE 1-1","T":142.45},{"label":"GMDE 2-1","T":141.2},{"label":"GMDE 3-2","T":139.8}
],
"legendRight": [
{"label":"GMD-1","T":109.0},{"label":"GMDE 1-1","T":107.9},{"label":"GMDE 2-1","T":106.8},{"label":"GMDE 3-2","T":105.6}
],
"arrows": [
{"wn":1503.3,"T":53.86,"wn2":1697.2,"T2":75.97},
{"wn":1503.3,"T":53.86,"wn2":1629,"T2":53.86},
{"wn":1503.3,"T":53.86,"wn2":1689,"T2":19.5}
]
},
"hconcat": [
{
"width": 551.5,
"height": 623.4,
"layer": [
{
"data": {"name": "left"},
"mark": {"type": "line", "color": "black", "strokeWidth": 1},
"encoding": {
"x": {"field": "wn", "type": "quantitative",
"scale": {"domain": [500, 4400], "reverse": true, "nice": false, "zero": false},
"axis": {"title": null, "tickCount": 78, "format": "d", "labelExpr": "datum.value === 500 ? '50' : (datum.value % 250 === 0 ? datum.label : '')", "labelOverlap": false, "labelFlush": false, "labelFontSize": 6, "labelPadding": 8.5, "tickSize": 5, "grid": true, "gridOpacity": {"condition": {"test": "datum.value % 250 === 0", "value": 1}, "value": 0}}},
"y": {"field": "T", "type": "quantitative",
"scale": {"domain": [0, 144.5], "nice": false, "zero": false},
"axis": {"title": "%T", "titleAngle": 0, "titleX": -15.8, "titleY": 42, "titleFontSize": 6, "titleAlign": "center", "titleBaseline": "middle", "labels": false, "tickCount": 73, "tickSize": {"condition": {"test": "datum.value % 10 === 0", "value": 9}, "value": 4}, "grid": true, "gridOpacity": {"condition": {"test": "datum.value % 10 === 0 && datum.value > 0", "value": 1}, "value": 0}}},
"detail": {"field": "series", "type": "nominal"}
}
},
{
"data": {"values": [{}]},
"mark": {"type": "rule", "color": "black", "strokeWidth": 1},
"encoding": {"x": {"datum": 2000}}
},
{
"data": {"values": [{}]},
"mark": {"type": "rect", "color": "white"},
"encoding": {"x": {"datum": 753}, "x2": {"datum": 503}, "y": {"datum": 144.24}, "y2": {"datum": 140.3}}
},
{
"data": {"values": [{}]},
"mark": {"type": "rect", "fill": "white", "stroke": "black", "strokeWidth": 1},
"encoding": {"x": {"datum": 765}, "x2": {"datum": 500}, "y": {"datum": 140.3}, "y2": {"datum": 139.1}}
},
{
"data": {"name": "legendLeft"},
"mark": {"type": "text", "align": "right", "baseline": "middle", "fontSize": 5.5, "color": "#222"},
"encoding": {"x": {"datum": 564.5}, "y": {"field": "T", "type": "quantitative"}, "text": {"field": "label"}}
},
{
"data": {"name": "legendLeft"},
"mark": {"type": "rule", "color": "black", "strokeWidth": 1},
"encoding": {"x": {"datum": 553}, "x2": {"datum": 506}, "y": {"field": "T", "type": "quantitative"}}
},
{
"data": {"name": "legendLeft"},
"transform": [{"filter": "datum.label === 'GMDE 3-2'"}],
"mark": {"type": "rule", "color": "black", "strokeWidth": 3},
"encoding": {"x": {"datum": 553}, "x2": {"datum": 506}, "y": {"field": "T", "type": "quantitative"}}
},
{
"data": {"name": "legendLeft"},
"transform": [{"filter": "datum.label === 'GMDE 3-2'"}],
"mark": {"type": "rule", "color": "white", "strokeWidth": 1},
"encoding": {"x": {"datum": 552}, "x2": {"datum": 507}, "y": {"field": "T", "type": "quantitative"}}
},
{
"data": {"values": [{}]},
"mark": {"type": "text", "text": "GMDE 3", "align": "left", "baseline": "middle", "fontSize": 6.8, "color": "#222"},
"encoding": {"x": {"datum": 4400}, "y": {"datum": -5.5}}
},
{
"data": {"values": [{}]},
"mark": {"type": "text", "text": "1/cm", "align": "right", "baseline": "middle", "fontSize": 6.8, "color": "#222", "dx": 3},
"encoding": {"x": {"datum": 500}, "y": {"datum": -5.5}}
}
]
},
{
"width": 556.9,
"height": 622,
"layer": [
{
"data": {"name": "right"},
"mark": {"type": "line", "color": "black", "strokeWidth": 1},
"encoding": {
"x": {"field": "wn", "type": "quantitative",
"scale": {"domain": [500, 1928], "reverse": true, "nice": false, "zero": false},
"axis": {"title": null, "tickCount": 72, "format": "d", "labelExpr": "datum.value % 100 === 0 && datum.value > 500 ? datum.label : ''", "labelOverlap": false, "labelFlush": false, "labelFontSize": 6.5, "labelPadding": 10.5, "tickSize": 5, "grid": true, "gridOpacity": {"condition": {"test": "datum.value % 100 === 0", "value": 1}, "value": 0}}},
"y": {"field": "T", "type": "quantitative",
"scale": {"domain": [-6.05, 109.48], "nice": false, "zero": false},
"axis": {"title": "%T", "titleAngle": 0, "titleX": -16, "titleY": 78.4, "titleFontSize": 6, "titleAlign": "center", "titleBaseline": "middle", "labels": false, "tickCount": 58, "tickSize": {"condition": {"test": "datum.value % 10 === 0", "value": 9}, "value": 4}, "grid": true, "gridOpacity": {"condition": {"test": "datum.value % 10 === 0", "value": 1}, "value": 0}}},
"detail": {"field": "series", "type": "nominal"}
}
},
{
"data": {"values": [{}]},
"mark": {"type": "rect", "color": "white"},
"encoding": {"x": {"datum": 596.6}, "x2": {"datum": 500}, "y": {"datum": 109.35}, "y2": {"datum": 106.06}}
},
{
"data": {"values": [{}]},
"mark": {"type": "rect", "fill": "white", "stroke": "black", "strokeWidth": 1},
"encoding": {"x": {"datum": 609.3}, "x2": {"datum": 500}, "y": {"datum": 106.06}, "y2": {"datum": 105.13}}
},
{
"data": {"name": "legendRight"},
"mark": {"type": "text", "align": "right", "baseline": "middle", "fontSize": 5.5, "color": "#222"},
"encoding": {"x": {"datum": 543.3}, "y": {"field": "T", "type": "quantitative"}, "text": {"field": "label"}}
},
{
"data": {"name": "legendRight"},
"mark": {"type": "rule", "color": "black", "strokeWidth": 1},
"encoding": {"x": {"datum": 537}, "x2": {"datum": 518}, "y": {"field": "T", "type": "quantitative"}}
},
{
"data": {"name": "legendRight"},
"transform": [{"filter": "datum.label === 'GMDE 3-2'"}],
"mark": {"type": "rule", "color": "black", "strokeWidth": 3},
"encoding": {"x": {"datum": 537}, "x2": {"datum": 518}, "y": {"field": "T", "type": "quantitative"}}
},
{
"data": {"name": "legendRight"},
"transform": [{"filter": "datum.label === 'GMDE 3-2'"}],
"mark": {"type": "rule", "color": "white", "strokeWidth": 1},
"encoding": {"x": {"datum": 536}, "x2": {"datum": 519}, "y": {"field": "T", "type": "quantitative"}}
},
{
"data": {"name": "arrows"},
"mark": {"type": "rule", "color": "black", "strokeWidth": 2},
"encoding": {"x": {"field": "wn", "type": "quantitative"}, "y": {"field": "T", "type": "quantitative"}, "x2": {"field": "wn2"}, "y2": {"field": "T2"}}
},
{
"data": {"values": [{}]},
"mark": {"type": "point", "shape": "M0,0L0.55,1.5L-0.55,1.5Z", "size": 400, "filled": true, "color": "black", "opacity": 1, "angle": 327.6},
"encoding": {"x": {"datum": 1697.2}, "y": {"datum": 75.97}}
},
{
"data": {"values": [{}]},
"mark": {"type": "point", "shape": "M0,0L0.55,1.5L-0.55,1.5Z", "size": 400, "filled": true, "color": "black", "opacity": 1, "angle": 270},
"encoding": {"x": {"datum": 1629}, "y": {"datum": 53.86}}
},
{
"data": {"values": [{}]},
"mark": {"type": "point", "shape": "M0,0L0.55,1.5L-0.55,1.5Z", "size": 400, "filled": true, "color": "black", "opacity": 1, "angle": 201.3},
"encoding": {"x": {"datum": 1689}, "y": {"datum": 19.5}}
},
{
"data": {"values": [{}]},
"mark": {"type": "text", "text": "C-O-O", "align": "left", "baseline": "alphabetic", "font": "Liberation Serif", "fontSize": 26, "color": "black"},
"encoding": {"x": {"datum": 1445}, "y": {"datum": 52.0}}
},
{
"data": {"values": [{}]},
"mark": {"type": "text", "text": "GMDE 3", "align": "left", "baseline": "middle", "fontSize": 6.8, "color": "#222"},
"encoding": {"x": {"datum": 1928}, "y": {"datum": -10.9}}
},
{
"data": {"values": [{}]},
"mark": {"type": "text", "text": "1/cm", "align": "right", "baseline": "middle", "fontSize": 6.8, "color": "#222", "dx": 3},
"encoding": {"x": {"datum": 500}, "y": {"datum": -10.9}}
}
]
}
],
"config": {
"view": {"stroke": "black", "strokeWidth": 1},
"axis": {"domainColor": "black", "domainWidth": 1, "tickColor": "black", "tickWidth": 1, "gridColor": "#9a9a9a", "gridWidth": 1, "labelColor": "#333", "labelFont": "Liberation Sans", "titleFont": "Liberation Sans", "titleColor": "#333", "titleFontWeight": "normal"},
"text": {"font": "Liberation Sans"}
}
}
